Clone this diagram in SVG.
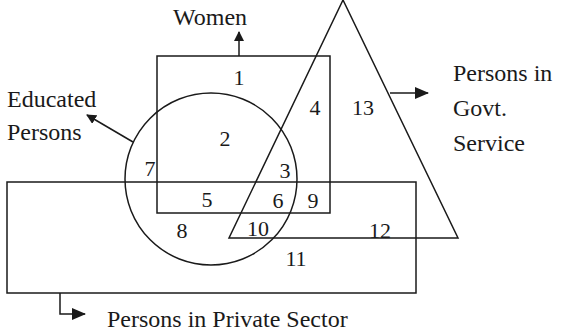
<svg xmlns="http://www.w3.org/2000/svg" width="562" height="336" viewBox="0 0 562 336">
<style>
.s{fill:none;stroke:#1a1a1a;stroke-width:1.5}
.c{fill:none;stroke:#1a1a1a;stroke-width:1.5}
.t{font-family:"Liberation Serif","Times New Roman",Times,serif;font-size:24px;fill:#1a1a1a}
.n{font-family:"Liberation Serif","Times New Roman",Times,serif;font-size:22px;fill:#1a1a1a;text-anchor:middle}
</style>
<defs>
<marker id="ah" viewBox="0 0 10 10" refX="9" refY="5" markerWidth="10" markerHeight="10" markerUnits="userSpaceOnUse" orient="auto">
<path d="M0,0 L10,5 L0,10 z" fill="#1a1a1a"/>
</marker>
<marker id="ah2" viewBox="0 0 14 12" refX="13" refY="6" markerWidth="14" markerHeight="12" markerUnits="userSpaceOnUse" orient="auto">
<path d="M0,0 L14,6 L0,12 z" fill="#1a1a1a"/>
</marker>
</defs>
<rect width="562" height="336" fill="#fff"/>
<g id="private-sector">
<rect class="s" x="7" y="182" width="409" height="111"/>
<text class="t" x="107" y="327">Persons in Private Sector</text>
</g>
<g id="women">
<rect class="s" x="157" y="56" width="173" height="157"/>
<text class="t" x="173" y="25">Women</text>
</g>
<g id="educated">
<ellipse class="s" cx="211" cy="179" rx="86" ry="86"/>
<text class="t" x="7" y="107">Educated</text>
<text class="t" x="7" y="140">Persons</text>
</g>
<g id="govt">
<polygon class="s" points="343,0 458,238 229,238"/>
<text class="t" x="453" y="81">Persons in</text>
<text class="t" x="453" y="116">Govt.</text>
<text class="t" x="453" y="151">Service</text>
</g>
<g id="connectors">
<line class="c" x1="239" y1="56" x2="239" y2="32" marker-end="url(#ah)"/>
<line class="c" x1="133" y1="142" x2="87" y2="115" marker-end="url(#ah)"/>
<line class="c" x1="390" y1="93" x2="428" y2="93" marker-end="url(#ah2)"/>
<polyline class="c" points="60,293 60,314 85,314" marker-end="url(#ah2)"/>
</g>
<g id="regions">
<text class="n" x="239" y="85">1</text>
<text class="n" x="225" y="146">2</text>
<text class="n" x="285" y="178">3</text>
<text class="n" x="315" y="115">4</text>
<text class="n" x="363" y="115">13</text>
<text class="n" x="150" y="176">7</text>
<text class="n" x="207" y="207">5</text>
<text class="n" x="278" y="208">6</text>
<text class="n" x="313" y="208">9</text>
<text class="n" x="182" y="238">8</text>
<text class="n" x="258" y="236">10</text>
<text class="n" x="380" y="238">12</text>
<text class="n" x="296" y="266">11</text>
</g>
</svg>
